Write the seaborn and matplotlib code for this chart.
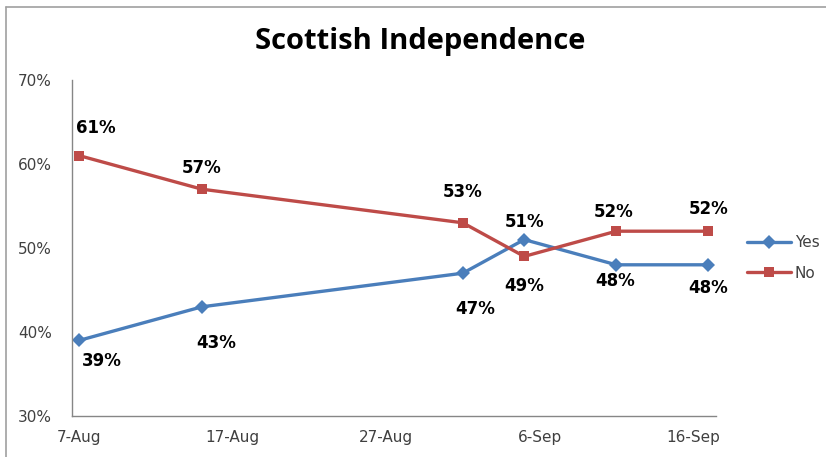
import matplotlib
matplotlib.use("Agg")
import matplotlib.pyplot as plt
from matplotlib.lines import Line2D
import pandas as pd
import seaborn as sns

# poll dates and results (%)
dates = ["2014-08-07", "2014-08-15", "2014-09-01", "2014-09-05", "2014-09-11", "2014-09-17"]
yes_vals = [39, 43, 47, 51, 48, 48]
no_vals = [61, 57, 53, 49, 52, 52]
tick_dates = ["2014-08-07", "2014-08-17", "2014-08-27", "2014-09-06", "2014-09-16"]
tick_labels = ["7-Aug", "17-Aug", "27-Aug", "6-Sep", "16-Sep"]
y_ticks = [30, 40, 50, 60, 70]

blue = "#4A7EBB"
red = "#BE4B48"

df = pd.DataFrame({
    "date": pd.to_datetime(dates * 2),
    "value": yes_vals + no_vals,
    "series": ["Yes"] * len(dates) + ["No"] * len(dates),
})

sns.set_style("white")
plt.rcParams["font.family"] = ["DejaVu Sans"]

fig = plt.figure(figsize=(8.26, 4.57), dpi=100)
ax = fig.add_axes([71.5 / 826, 41 / 457, (716 - 71.5) / 826, (416 - 80) / 457])

sns.lineplot(data=df, x="date", y="value", hue="series", style="series",
             palette={"Yes": blue, "No": red}, markers={"Yes": "D", "No": "s"},
             dashes=False, linewidth=2.4, markersize=7.5, markeredgewidth=0,
             legend=False, ax=ax)

# data labels, offsets in points
yes_off = [(16, -15), (10, -26), (9, -26), (0, 13), (-1, -12), (0, -17)]
no_off = [(12, 20), (0, 15), (0, 22), (0, -21), (-2, 14), (0, 16)]
for d, v, off in zip(pd.to_datetime(dates), yes_vals, yes_off):
    ax.annotate(f"{v}%", (d, v), xytext=off, textcoords="offset points",
                ha="center", va="center", fontsize=12, fontweight="bold", color="black")
for d, v, off in zip(pd.to_datetime(dates), no_vals, no_off):
    ax.annotate(f"{v}%", (d, v), xytext=off, textcoords="offset points",
                ha="center", va="center", fontsize=12, fontweight="bold", color="black")

ax.set_xlim(pd.Timestamp("2014-08-06 12:00"), pd.Timestamp("2014-09-17 12:00"))
ax.set_ylim(30, 70)
ax.set_xticks(pd.to_datetime(tick_dates))
ax.set_xticklabels(tick_labels)
ax.set_yticks(y_ticks)
ax.set_yticklabels([f"{t}%" for t in y_ticks])
ax.tick_params(axis="both", length=0, labelsize=11, colors="#404040")
ax.tick_params(axis="x", pad=10)
ax.tick_params(axis="y", pad=14)
ax.set_xlabel("")
ax.set_ylabel("")

for s in ["top", "right"]:
    ax.spines[s].set_visible(False)
for s in ["left", "bottom"]:
    ax.spines[s].set_color("#868686")
    ax.spines[s].set_linewidth(1.0)

fig.suptitle("Scottish Independence", x=420 / 826, y=1 - 42 / 457, va="center",
             fontsize=21, fontweight="bold", color="black", family=["Open Sans", "DejaVu Sans"])

handles = [
    Line2D([], [], color=blue, marker="D", linewidth=2.4, markersize=7, markeredgewidth=0),
    Line2D([], [], color=red, marker="s", linewidth=2.4, markersize=7.5, markeredgewidth=0),
]
fig.legend(handles, ["Yes", "No"], loc="center left", bbox_to_anchor=(733 / 826, 1 - 258 / 457),
           frameon=False, fontsize=11, handlelength=2.9, handletextpad=0.25, labelspacing=1.0,
           labelcolor="#404040")

# outer chart-area border (left and top edges visible)
fig.add_artist(Line2D([6 / 826, 6 / 826], [0, 1 - 7 / 457], color="#A0A0A0", linewidth=1.2))
fig.add_artist(Line2D([6 / 826, 1], [1 - 7 / 457, 1 - 7 / 457], color="#A0A0A0", linewidth=1.2))

fig.savefig("out.png", dpi=100)
